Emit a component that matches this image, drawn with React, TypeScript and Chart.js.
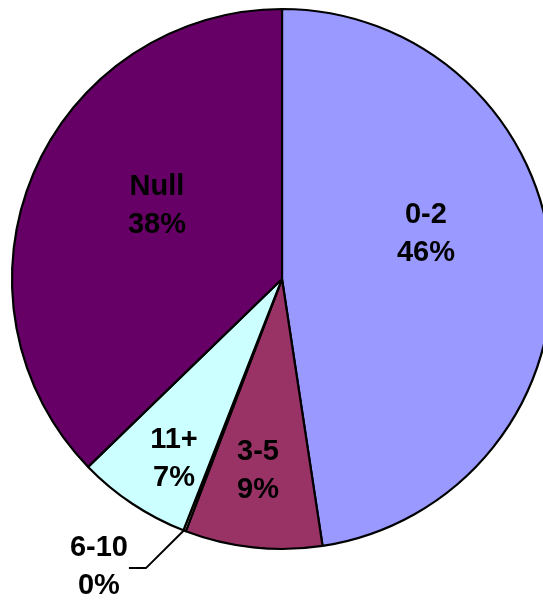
import React, { useEffect, useRef } from "react";
import { Chart, registerables } from "chart.js";

Chart.register(...registerables);

const categories = ["0-2", "3-5", "6-10", "11+", "Null"];
const values = [47.6, 8.2, 0.15, 6.8, 37.25];
const percentLabels = ["46%", "9%", "0%", "7%", "38%"];
const colors = ["#9999FF", "#993366", "#FFFFCC", "#CCFFFF", "#660066"];

// label anchor offsets as fraction of radius (relative to pie center)
const labelAnchors: [number, number][] = [
  [0.533, -0.165],
  [-0.089, 0.711],
  [-0.678, 1.067],
  [-0.4, 0.667],
  [-0.463, -0.27],
];

const labelPlugin = {
  id: "pieLabels",
  afterDraw(chart: any) {
    const ctx = chart.ctx;
    const meta = chart.getDatasetMeta(0);
    const arc0 = meta.data[0] as any;
    const cx = arc0.x;
    const cy = arc0.y;
    const r = arc0.outerRadius;
    ctx.save();
    ctx.font = "bold 29px 'Liberation Sans', Arial, sans-serif";
    ctx.fillStyle = "#000";
    ctx.textAlign = "center";
    ctx.textBaseline = "middle";
    categories.forEach((cat, i) => {
      const [fx, fy] = labelAnchors[i];
      const x = cx + fx * r;
      const y = cy + fy * r;
      ctx.fillText(cat, x, y - 19);
      ctx.fillText(percentLabels[i], x, y + 19);
    });
    // leader line for tiny slice (6-10)
    const a = meta.data[2] as any;
    const mid = (a.startAngle + a.endAngle) / 2;
    const ex = cx + Math.cos(mid) * (r - 2);
    const ey = cy + Math.sin(mid) * (r - 2);
    const [fx, fy] = labelAnchors[2];
    const lx = cx + fx * r;
    const ly = cy + fy * r;
    ctx.strokeStyle = "#000";
    ctx.lineWidth = 2;
    ctx.beginPath();
    ctx.moveTo(ex, ey);
    ctx.lineTo(lx + 47, ly + 1);
    ctx.lineTo(lx + 30, ly + 1);
    ctx.stroke();
    ctx.restore();
  },
};

export default function App() {
  const ref = useRef<HTMLCanvasElement>(null);
  useEffect(() => {
    if (!ref.current) return;
    const chart = new Chart(ref.current, {
      type: "pie",
      data: {
        labels: categories,
        datasets: [
          {
            data: values,
            backgroundColor: colors,
            borderColor: "#000000",
            borderWidth: 2.2,
            radius: 270,
          } as any,
        ],
      },
      options: {
        animation: false,
        responsive: false,
        maintainAspectRatio: false,
        layout: { padding: { left: 0, right: 0, top: 0, bottom: 46 } },
        plugins: {
          legend: { display: false },
          tooltip: { enabled: false },
          title: { display: false },
        },
      },
      plugins: [labelPlugin],
    });
    return () => chart.destroy();
  }, []);
  return (
    <div
      style={{
        position: "fixed",
        left: 0,
        top: 0,
        width: 543,
        height: 604,
        overflow: "hidden",
        background: "#fff",
      }}
    >
      <canvas ref={ref} width={564} height={604} style={{ display: "block" }} />
    </div>
  );
}
